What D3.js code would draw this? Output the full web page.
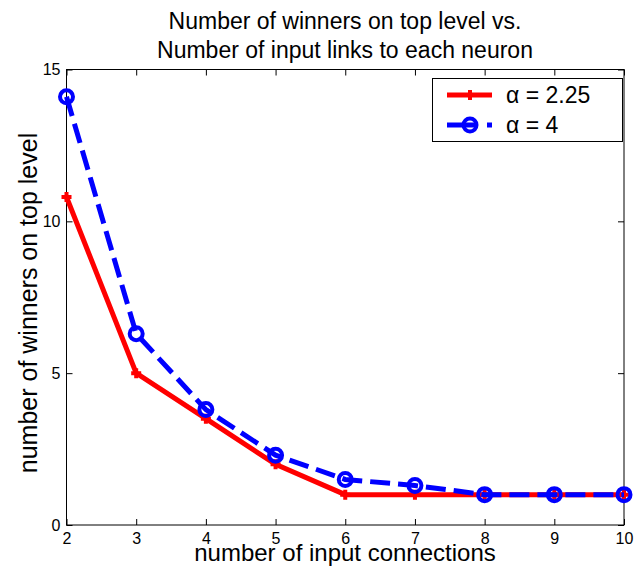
<!DOCTYPE html>
<html>
<head>
<meta charset="utf-8">
<script src="https://cdn.jsdelivr.net/npm/d3@7/dist/d3.min.js"></script>
<style>
  body { margin: 0; background: #fff; }
  text { font-family: Arial, "Liberation Sans", sans-serif; fill: #000; }
</style>
</head>
<body>
<div id="chart"></div>
<script>
// data
let connections = [2, 3, 4, 5, 6, 7, 8, 9, 10];
let winnersAlpha225 = [10.8, 5.0, 3.5, 2.0, 1.0, 1.0, 1.0, 1.0, 1.0];
let winnersAlpha4 = [14.1, 6.3, 3.8, 2.3, 1.5, 1.3, 1.0, 1.0, 1.0];
let xTicks = [2, 3, 4, 5, 6, 7, 8, 9, 10];
let yTicks = [0, 5, 10, 15];
let seriesNames = ["\u03b1 = 2.25", "\u03b1 = 4"];

let width = 634, height = 566;
let plotLeft = 66.5, plotRight = 624, plotTop = 69.5, plotBottom = 525;

let svg = d3.select("#chart").append("svg")
  .attr("width", width)
  .attr("height", height);

let xScale = d3.scaleLinear().domain([2, 10]).range([plotLeft, plotRight]);
let yScale = d3.scaleLinear().domain([0, 15]).range([plotBottom, plotTop]);

// box
svg.append("rect")
  .attr("x", plotLeft).attr("y", plotTop)
  .attr("width", plotRight - plotLeft).attr("height", plotBottom - plotTop)
  .attr("fill", "none").attr("stroke", "#000").attr("stroke-width", 1);

// axes, ticks pointing inward like matlab
let tickLen = 6;
let xAxis = d3.axisBottom(xScale).tickValues(xTicks).tickSize(-tickLen).tickPadding(8).tickFormat(d3.format("d"));
let yAxis = d3.axisLeft(yScale).tickValues(yTicks).tickSize(-tickLen).tickPadding(6).tickFormat(d3.format("d"));

svg.append("g").attr("transform", "translate(0," + plotBottom + ")").call(xAxis)
  .call(g => g.select(".domain").remove())
  .selectAll("text").style("font-size", "16px").attr("font-family", "Arial");
svg.append("g").attr("transform", "translate(" + plotLeft + ",0)").call(yAxis)
  .call(g => g.select(".domain").remove())
  .selectAll("text").style("font-size", "16px").attr("font-family", "Arial");

// top and right tick marks
svg.append("g").attr("transform", "translate(0," + plotTop + ")")
  .call(d3.axisTop(xScale).tickValues(xTicks).tickSize(-tickLen).tickFormat(""))
  .call(g => g.select(".domain").remove());
svg.append("g").attr("transform", "translate(" + plotRight + ",0)")
  .call(d3.axisRight(yScale).tickValues(yTicks).tickSize(-tickLen).tickFormat(""))
  .call(g => g.select(".domain").remove());

let line = d3.line().x(d => xScale(d[0])).y(d => yScale(d[1]));

let redData = connections.map((c, i) => [c, winnersAlpha225[i]]);
let blueData = connections.map((c, i) => [c, winnersAlpha4[i]]);

// red series: solid with + markers
svg.append("path").datum(redData)
  .attr("d", line)
  .attr("fill", "none").attr("stroke", "#ff0000").attr("stroke-width", 5)
  .attr("stroke-linejoin", "miter");

function plusMarker(g, x, y) {
  g.append("path")
    .attr("d", "M" + (x - 5) + "," + y + "H" + (x + 5) + "M" + x + "," + (y - 5) + "V" + (y + 5))
    .attr("stroke", "#ff0000").attr("stroke-width", 4);
}
let redMarks = svg.append("g");
redData.forEach(d => plusMarker(redMarks, xScale(d[0]), yScale(d[1])));

// blue series: dashed with open circles
svg.append("path").datum(blueData)
  .attr("d", line)
  .attr("fill", "none").attr("stroke", "#0000ff").attr("stroke-width", 5)
  .attr("stroke-dasharray", "20,8");

svg.append("g").selectAll("circle")
  .data(blueData)
  .enter()
  .append("circle")
  .attr("cx", d => xScale(d[0]))
  .attr("cy", d => yScale(d[1]))
  .attr("r", 6.5)
  .attr("fill", "none")
  .attr("stroke", "#0000ff")
  .attr("stroke-width", 4);

// legend
let legend = svg.append("g");
legend.append("rect")
  .attr("x", 432.5).attr("y", 78.5).attr("width", 190).attr("height", 63)
  .attr("fill", "#fff").attr("stroke", "#000").attr("stroke-width", 1);

legend.append("line")
  .attr("x1", 447).attr("x2", 492).attr("y1", 95).attr("y2", 95)
  .attr("stroke", "#ff0000").attr("stroke-width", 5);
plusMarker(legend, 470, 95);
legend.append("line")
  .attr("x1", 447).attr("x2", 492).attr("y1", 125).attr("y2", 125)
  .attr("stroke", "#0000ff").attr("stroke-width", 5)
  .attr("stroke-dasharray", "28,12");
legend.append("circle")
  .attr("cx", 470).attr("cy", 125).attr("r", 6.5)
  .attr("fill", "none").attr("stroke", "#0000ff").attr("stroke-width", 4);

legend.selectAll(".legText")
  .data(seriesNames)
  .enter()
  .append("text")
  .attr("class", "legText")
  .attr("x", 506)
  .attr("y", (d, i) => 103 + i * 30)
  .style("font-size", "23px")
  .text(d => d);

// title
svg.append("text")
  .attr("x", 345).attr("y", 29)
  .attr("text-anchor", "middle")
  .style("font-size", "23px")
  .text("Number of winners on top level vs.");
svg.append("text")
  .attr("x", 345).attr("y", 58)
  .attr("text-anchor", "middle")
  .style("font-size", "23px")
  .text("Number of input links to each neuron");

// axis labels
svg.append("text")
  .attr("x", 345).attr("y", 561)
  .attr("text-anchor", "middle")
  .style("font-size", "24px")
  .text("number of input connections");
svg.append("text")
  .attr("transform", "translate(37,303) rotate(-90)")
  .attr("text-anchor", "middle")
  .style("font-size", "25px")
  .text("number of winners on top level");
</script>
</body>
</html>
